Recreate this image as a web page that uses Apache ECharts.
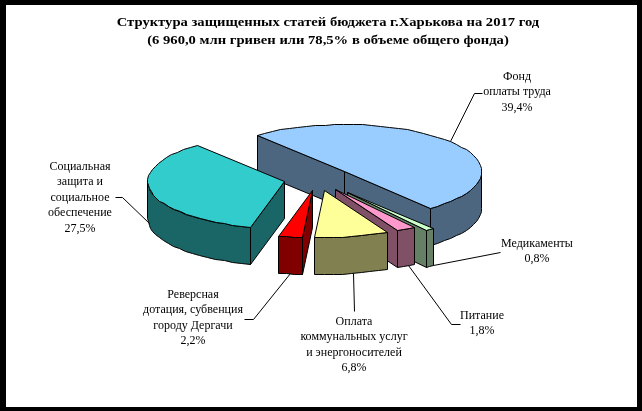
<!DOCTYPE html>
<html><head><meta charset="utf-8">
<style>html,body{margin:0;padding:0;background:#000;width:642px;height:411px;overflow:hidden}#c{width:642px;height:411px}</style>
<script src="https://cdn.jsdelivr.net/npm/echarts@6/dist/echarts.min.js"></script>
</head><body><div id="c"></div>
<script>
const categories = ['Фонд\nоплаты труда','Медикаменты','Питание','Оплата\nкоммунальных услуг\nи энергоносителей','Реверсная\nдотация, субвенция\nгороду Дергачи','Социальная\nзащита и\nсоциальное\nобеспечение'];
const values = [39.4,0.8,1.8,6.8,2.2,27.5];
const valueLabels = ['39,4%','0,8%','1,8%','6,8%','2,2%','27,5%'];
const titleLines = ['Структура защищенных статей бюджета г.Харькова на 2017 год','(6 960,0 млн гривен или 78,5% в объеме общего фонда)'];

// styling and layout, kept apart from the data
const topColors  = ['#99CCFF','#CCFFCC','#FF99CC','#FFFF99','#FF0000','#33CCCC'];
const wallColors = ['#4D6680','#668066','#805066','#808050','#800000','#1A6666'];
const explode = [.25,.35,.25,.25,.25,.25];
const drawOrder = [0,5,1,2,3,4];
const labelPos = [[517,77],[537,244],[482,316],[354,322],[193,295],[80,167]];
const elbows = [[[474,92.5],[482,92.5]],[[500,252]],[[451,324],[460,324]],[[354,311]],[[253,319],[244,319]],[[122,197],[115,197]]];
const rimAnchor = [true,false,false,false,false,false];
const leaderShift = [[0,0],[4,-1],[2,-1],[2,0],[0,0],[-2,-5]];
const C = {x:317.6,y:178.5,rx:137,ry:47,h:37,start:-39.6};

const total = values.reduce((a,b)=>a+b,0);
const slices = []; let acc = C.start;
values.forEach((v,i)=>{const sw=v/total*360; slices.push({a:acc,b:acc+sw}); acc+=sw;});
const rad = d=>d*Math.PI/180;
const pt = (o,deg)=>[o[0]+C.rx*Math.sin(rad(deg)), o[1]-C.ry*Math.cos(rad(deg))];
const down = p=>[p[0],p[1]+C.h];
const snap = p=>[Math.round(p[0])+.5,Math.round(p[1])+.5];
const stroke = {stroke:'#000',lineWidth:1,lineJoin:'round'};
const apex = i=>{const s=slices[i],off=pt([0,0],(s.a+s.b)/2);return [C.x+explode[i]*off[0],C.y+explode[i]*off[1]];};

function arc(o,a,b){const n=Math.max(2,Math.ceil((b-a)/4));const r=[];for(let k=0;k<=n;k++)r.push(pt(o,a+(b-a)*k/n));return r;}
function poly(points,fill,z){return {type:'polygon',z2:z,shape:{points:points.map(snap)},style:Object.assign({fill},stroke)};}
function wallFaces(o,p,inner){
  const e=[p[0]-o[0],p[1]-o[1]], n=[inner[0]-o[0],inner[1]-o[1]];
  return (e[0]*n[1]-e[1]*n[0])*e[0] < 0;
}

function renderItem(i){
  const s = slices[i], mid = (s.a+s.b)/2, o = apex(i);
  const kids = [];
  const pa = pt(o,s.a), pb = pt(o,s.b), inner = pt(o,mid);
  if (wallFaces(o,pa,inner)) kids.push(poly([o,pa,down(pa),down(o)],wallColors[i],1));
  if (wallFaces(o,pb,inner)) kids.push(poly([o,pb,down(pb),down(o)],wallColors[i],1));
  const va = Math.max(s.a,90), vb = Math.min(s.b,270);
  if (vb>va){
    const rim = arc(o,va,vb);
    kids.push(poly(rim.concat(rim.slice().reverse().map(down)),wallColors[i],2));
  }
  kids.push(poly([o].concat(arc(o,s.a,s.b)),topColors[i],3));
  return {type:'group',children:kids};
}

const chart = echarts.init(document.getElementById('c'),null,{renderer:'canvas'});

const labelGraphics = [];
titleLines.forEach((t,k)=>labelGraphics.push({type:'text',x:328,y:[22.5,41][k],scaleX:1.082,z:20,
  style:{text:t,fill:'#000',font:'bold 13.5px "Liberation Serif"',align:'center',verticalAlign:'middle'}}));
categories.forEach((c,i)=>{
  labelGraphics.push({type:'text',x:labelPos[i][0],y:labelPos[i][1]-8,z:20,
    style:{text:c+'\n'+valueLabels[i],fill:'#000',font:'12px "Liberation Serif"',align:'center',verticalAlign:'top',lineHeight:15.5}});
  const s = slices[i], p = pt(apex(i),(s.a+s.b)/2);
  const st0 = rimAnchor[i]?p:down(p);
  const st = [st0[0]+leaderShift[i][0],st0[1]+leaderShift[i][1]];
  labelGraphics.push({type:'polyline',z:15,shape:{points:[st].concat(elbows[i]).map(snap)},style:{stroke:'#000',lineWidth:1,fill:null}});
});

chart.setOption({
  animation:false,
  backgroundColor:'#000',
  graphic:[{type:'rect',z:-1,shape:{x:6,y:5,width:631,height:402},style:{fill:'#fff'}}].concat(labelGraphics),
  series:[{type:'custom',coordinateSystem:'none',silent:true,
    data:drawOrder.map(i=>({value:values[i],name:categories[i]})),
    renderItem:(params)=>renderItem(drawOrder[params.dataIndex])}]
});
</script></body></html>
